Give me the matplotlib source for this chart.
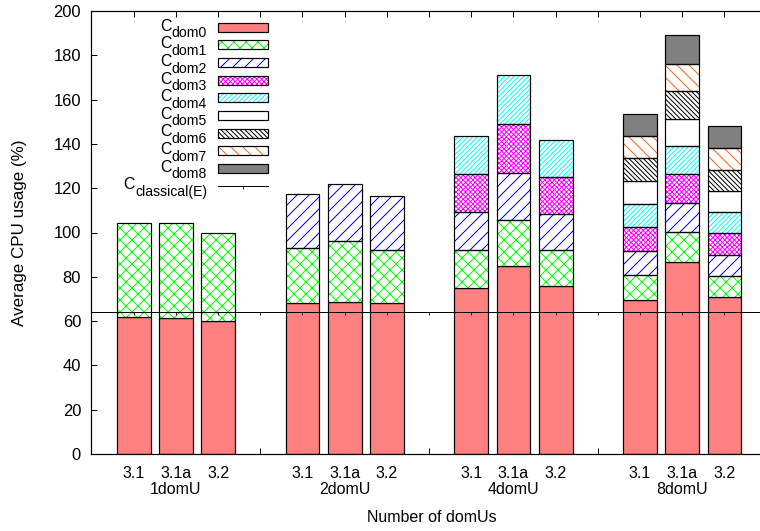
import matplotlib
matplotlib.use("Agg")
import matplotlib.pyplot as plt
import matplotlib.transforms as mtransforms
from matplotlib.patches import Rectangle
from matplotlib.lines import Line2D

plt.rcParams['font.family'] = ['Liberation Sans', 'DejaVu Sans']
plt.rcParams['hatch.linewidth'] = 1.0

# ---------------- data ----------------
versions = ['3.1', '3.1a', '3.2']
groups = ['1domU', '2domU', '4domU', '8domU']
c_dom0 = [61.7, 61.4, 59.9, 68.0, 68.6, 68.2, 74.8, 84.7, 75.8, 69.7, 86.5, 71.0]
c_dom1 = [42.8, 43.1, 40.0, 24.9, 27.4, 24.0, 17.2, 20.8, 16.3, 11.1, 13.7, 9.5]
c_dom2 = [0, 0, 0, 24.5, 26.0, 24.3, 17.1, 21.5, 16.4, 11.0, 13.2, 9.5]
c_dom3 = [0, 0, 0, 0, 0, 0, 17.3, 22.0, 16.4, 10.7, 13.1, 9.6]
c_dom4 = [0, 0, 0, 0, 0, 0, 17.3, 22.1, 16.9, 10.5, 12.6, 9.8]
c_dom5 = [0, 0, 0, 0, 0, 0, 0, 0, 0, 10.3, 12.1, 9.4]
c_dom6 = [0, 0, 0, 0, 0, 0, 0, 0, 0, 10.5, 12.5, 9.6]
c_dom7 = [0, 0, 0, 0, 0, 0, 0, 0, 0, 9.9, 12.5, 9.7]
c_dom8 = [0, 0, 0, 0, 0, 0, 0, 0, 0, 9.7, 12.8, 10.0]
c_classical = 64.1
series = [c_dom0, c_dom1, c_dom2, c_dom3, c_dom4, c_dom5, c_dom6, c_dom7, c_dom8]
series_names = ['dom0', 'dom1', 'dom2', 'dom3', 'dom4', 'dom5', 'dom6', 'dom7', 'dom8']
yticks = list(range(0, 201, 20))

# ---------------- styles ----------------
styles = [
    ('#ff8080', None, None),
    ('white', 'xx', '#00ff00'),
    ('white', '//', '#0000ff'),
    ('white', 'xxxxx', '#ff00ff'),
    ('white', '/////', '#00ffff'),
    ('white', None, None),
    ('white', '\\\\\\\\\\', 'black'),
    ('white', '\\\\', '#ff6010'),
    ('#808080', None, None),
]

fig = plt.figure(figsize=(760 / 72, 531 / 72), dpi=72)
L, R, T, B = 91, 760, 11, 454
ax = fig.add_axes([L / 760, 1 - B / 531, (R - L) / 760, (B - T) / 531])

ngroup = len(groups)
nver = len(versions)
step = nver + 1
positions = [step * g + v for g in range(ngroup) for v in range(nver)]
width = 0.8

bottoms = [0.0] * len(positions)
for s_vals, (fc, hatch, hc) in zip(series, styles):
    for i, (x, h) in enumerate(zip(positions, s_vals)):
        if h <= 0:
            continue
        if hatch:
            ax.bar(x, h, width, bottom=bottoms[i], facecolor=fc, hatch=hatch,
                   edgecolor=hc, linewidth=0, zorder=1)
            ax.bar(x, h, width, bottom=bottoms[i], fill=False,
                   edgecolor='black', linewidth=1.2, zorder=1.1)
        else:
            ax.bar(x, h, width, bottom=bottoms[i], facecolor=fc,
                   edgecolor='black', linewidth=1.2, zorder=1)
        bottoms[i] += h

# classical line
all_pos = list(range(step * ngroup - 1))
ax.axhline(c_classical, color='black', linewidth=1.0, zorder=3)
ax.plot(all_pos, [c_classical] * len(all_pos), ls='none', marker=3,
        ms=2.5, mew=0.8, color='black', zorder=3)

# axes limits, spines, ticks
px_per_unit = 42.2
x_left = -1.01
x_right = x_left + (R - L) / px_per_unit
ax.set_xlim(x_left, x_right)
ax.set_ylim(0, 200)
ax.spines['right'].set_visible(False)
for sp in ['left', 'top', 'bottom']:
    ax.spines[sp].set_linewidth(1.2)
ax.set_axisbelow(True)

ax.set_yticks(yticks)
ax.set_yticklabels([str(v) for v in yticks])
xt_labels = []
for p in all_pos:
    xt_labels.append(versions[p % step] if p % step < nver else '')
ax.set_xticks(all_pos)
ax.set_xticklabels(xt_labels)
ax.tick_params(direction='in', length=6, width=1.0, top=True, right=False,
               labelsize=16)
ax.tick_params(axis='y', pad=10, labelsize=16.5)
ax.tick_params(axis='x', pad=12)

trans = mtransforms.blended_transform_factory(ax.transData, ax.transAxes)
for g, name in enumerate(groups):
    ax.text(step * g + (nver - 1) / 2, (B - 490) / (B - T), name,
            transform=trans, ha='center', va='center', fontsize=16)

fig.text(432 / 760, 1 - 517 / 531, 'Number of domUs', ha='center',
         va='center', fontsize=16)
fig.text(20 / 760, 1 - 233 / 531, 'Average CPU usage (%)', ha='center',
         va='center', rotation=90, fontsize=17)

# ---------------- legend (manual) ----------------
def ax_xy(px, py):
    return ((px - L) / (R - L), (B - py) / (B - T))

box_x0, box_x1 = 218, 268
box_h = 9
row0 = 27.3
row_step = 17.63
text_right = 207

labels = series_names + ['classical(E)']
for k, lab in enumerate(labels):
    cy = row0 + k * row_step
    if k < len(series):
        fc, hatch, hc = styles[k]
        x0, y0 = ax_xy(box_x0, cy + box_h / 2)
        wbox = (box_x1 - box_x0) / (R - L)
        hbox = box_h / (B - T)
        if hatch:
            ax.add_patch(Rectangle((x0, y0), wbox, hbox, transform=ax.transAxes,
                                   facecolor=fc, hatch=hatch, edgecolor=hc,
                                   linewidth=0, clip_on=False, zorder=4))
            ax.add_patch(Rectangle((x0, y0), wbox, hbox, transform=ax.transAxes,
                                   fill=False, edgecolor='black', linewidth=1.2,
                                   clip_on=False, zorder=4.1))
        else:
            ax.add_patch(Rectangle((x0, y0), wbox, hbox, transform=ax.transAxes,
                                   facecolor=fc, edgecolor='black', linewidth=1.2,
                                   clip_on=False, zorder=4))
    else:
        xa, ya = ax_xy(box_x0, cy)
        xb, _ = ax_xy(box_x1, cy)
        ax.add_line(Line2D([xa, xb], [ya, ya], transform=ax.transAxes,
                           color='black', linewidth=1.0, clip_on=False))
        ax.plot([(xa + xb) / 2], [ya], transform=ax.transAxes, marker=3,
                ms=2.5, mew=0.8, color='black', clip_on=False)
    tx, ty = ax_xy(text_right, cy + 10)
    sub = ax.text(tx, ty, lab, transform=ax.transAxes, ha='right',
                  va='baseline', fontsize=14)
    ax.annotate('C', xy=(0, 0), xycoords=sub, xytext=(-0.3, 9.6),
                textcoords='offset points', ha='right', va='baseline',
                fontsize=16)

fig.savefig('out.png', dpi=72)
